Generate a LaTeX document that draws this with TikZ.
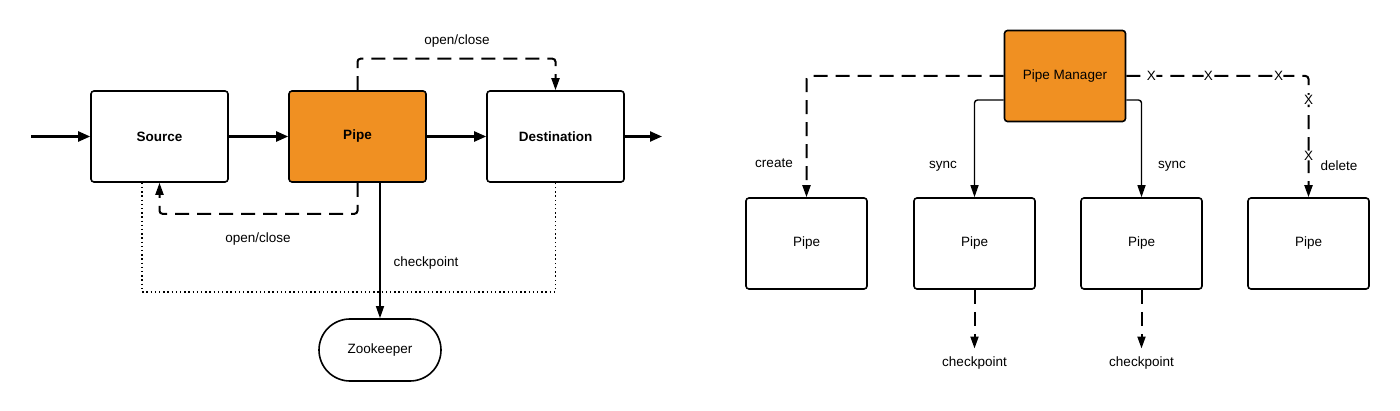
\documentclass[tikz,border=0pt]{standalone}
\usepackage{fontspec}
\setmainfont{Liberation Sans}
\usetikzlibrary{arrows.meta,calc,shapes.misc}
\definecolor{pipeorange}{RGB}{240,144,34}
\tikzset{
  lbl/.style={font=\fontsize{13.5}{16}\selectfont, inner sep=0pt},
  bigbox/.style={draw, line width=1.6pt, rounded corners=3pt, minimum width=137pt, minimum height=91pt, inner sep=0pt, font=\fontsize{13.5}{16}\selectfont\bfseries},
  smallbox/.style={draw, line width=1.6pt, rounded corners=3pt, minimum width=121pt, minimum height=91pt, inner sep=0pt, font=\fontsize{13.5}{16}\selectfont},
  flow/.style={line width=2.3pt, -{Triangle[length=12pt,width=10pt]}},
  dasharrow/.style={line width=2pt, dash pattern=on 14pt off 8pt, rounded corners=3pt, -{Triangle[length=12pt,width=8pt]}},
  thinarrow/.style={line width=1.4pt, rounded corners=3pt, -{Triangle[length=12pt,width=8pt]}},
  dotline/.style={line width=1.6pt, dash pattern=on 1.4pt off 2.8pt},
  xmark/.style={font=\fontsize{13.5}{16}\selectfont, fill=white, inner sep=0.3pt},
}
\begin{document}
\begin{tikzpicture}[x=1pt,y=-1pt]
\useasboundingbox (0,0) rectangle (1400,411);
% ---------- left diagram ----------
\node[bigbox] (src) at (159.5,136.5) {Source};
\node[bigbox, fill=pipeorange] (pipe) at (357.5,136.5) {Pipe};
\node[bigbox] (dst) at (555.5,136.5) {Destination};
\node[draw, line width=1.6pt, rounded rectangle, minimum width=122pt, minimum height=62pt, inner sep=0pt, font=\fontsize{13.5}{16}\selectfont] (zk) at (380,350) {Zookeeper};
\coordinate (in) at (31,136.5);
\coordinate (out) at (662,136.5);
\draw[flow] (in) -- (src);
\draw[flow] (src) -- (pipe);
\draw[flow] (pipe) -- (dst);
\draw[flow] (dst) -- (out);
\draw[dasharrow] (pipe.north) -- ++(0,-31.5) -| (dst.north);
\draw[dasharrow] (pipe.south) -- ++(0,31) -| (src.south);
\draw[dotline] ($(src.south)+(-17.5,0)$) -- ++(0,109) -| (dst.south);
\draw[thinarrow] (zk.north |- pipe.south) -- (zk.north);
\node[lbl] (oc1) at (457,41) {open/close};
\node[lbl] (oc2) at (258,239) {open/close};
\node[lbl] (ck0) at (426,263) {checkpoint};
% ---------- right diagram ----------
\node[smallbox, fill=pipeorange] (pm) at (1065,76) {Pipe Manager};
\node[smallbox] (p1) at (806.5,243.5) {Pipe};
\node[smallbox] (p2) at (974.5,243.5) {Pipe};
\node[smallbox] (p3) at (1141.5,243.5) {Pipe};
\node[smallbox] (p4) at (1308.5,243.5) {Pipe};
\draw[dasharrow] (pm.west) -| (p1.north);
\draw[thinarrow] ($(pm.west)+(0,24)$) -| (p2.north);
\draw[thinarrow] ($(pm.east)+(0,24)$) -| (p3.north);
\draw[dasharrow] (pm.east) -| (p4.north)
  node[xmark, pos=0.069] {X}
  node[xmark, pos=0.225] {X}
  node[xmark, pos=0.418] {X}
  node[xmark, pos=0.598] {X}
  node[xmark, pos=0.828] {X};
\node[lbl] (lc) at (774,163) {create};
\node[lbl] (ls1) at (943,166) {sync};
\node[lbl] (ls2) at (1172,166) {sync};
\node[lbl] (ld) at (1339,166) {delete};
\node[lbl] (ck1) at (974.5,363) {checkpoint};
\node[lbl] (ck2) at (1141.5,363) {checkpoint};
\draw[dasharrow, shorten >=8pt] (p2.south) -- (ck1.north);
\draw[dasharrow, shorten >=8pt] (p3.south) -- (ck2.north);
\end{tikzpicture}
\end{document}
